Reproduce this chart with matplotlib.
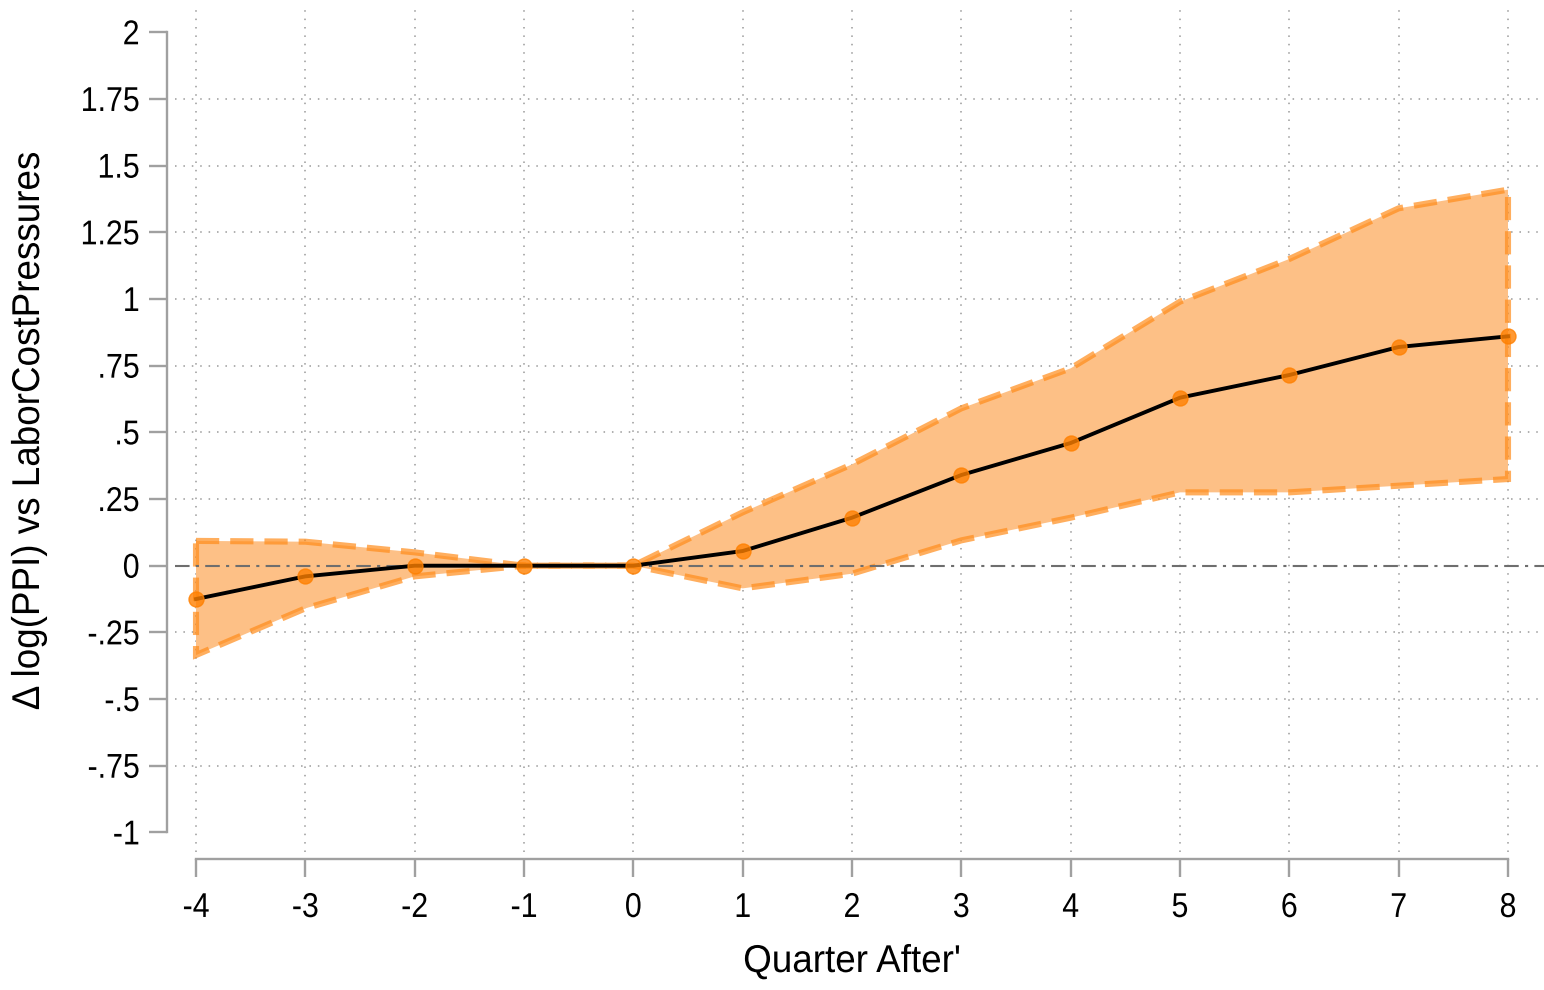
import numpy as np
import matplotlib.pyplot as plt
from matplotlib.patheffects import AbstractPathEffect
from matplotlib.transforms import Affine2D

# Data
quarters = [-4, -3, -2, -1, 0, 1, 2, 3, 4, 5, 6, 7, 8]
coef = [-0.125, -0.04, 0.0, 0.0, 0.0, 0.055, 0.18, 0.34, 0.46, 0.63, 0.715, 0.82, 0.86]
ci_upper = [0.093, 0.09, 0.05, 0.0, 0.0, 0.20, 0.38, 0.59, 0.74, 0.99, 1.15, 1.34, 1.41]
ci_lower = [-0.335, -0.16, -0.04, 0.0, 0.0, -0.085, -0.03, 0.095, 0.18, 0.275, 0.275, 0.30, 0.325]
yticks = [-1, -0.75, -0.5, -0.25, 0, 0.25, 0.5, 0.75, 1, 1.25, 1.5, 1.75, 2]
yticklabels = ['-1', '-.75', '-.5', '-.25', '0', '.25', '.5', '.75', '1', '1.25', '1.5', '1.75', '2']


class Condense(AbstractPathEffect):
    """squeeze text horizontally (narrow font look)"""
    def __init__(self, sx, anchor='left'):
        super().__init__()
        self.sx = sx
        self.anchor = anchor

    def draw_path(self, renderer, gc, tpath, affine, rgbFace=None):
        ext = tpath.get_extents()
        if self.anchor == 'right':
            x = ext.x1
        elif self.anchor == 'center':
            x = (ext.x0 + ext.x1) / 2
        else:
            x = ext.x0
        t = Affine2D().translate(-x, 0).scale(self.sx, 1).translate(x, 0) + affine
        renderer.draw_path(gc, tpath, t, rgbFace)


plt.rcParams['font.family'] = ['Liberation Sans', 'DejaVu Sans']

W, H = 1544, 990
fig = plt.figure(figsize=(W / 100, H / 100), dpi=100)
# plot region in pixels: x 175..1544, y 5..852
ax = fig.add_axes([175 / W, 1 - 852 / H, (W - 175) / W, (852 - 5) / H])

px_per_x = 109.33
px_per_y = 266.7
ax.set_xlim(-4 + (175 - 196) / px_per_x, 8 + (W - 1508) / px_per_x)
ax.set_ylim((565.7 - 852) / px_per_y, (565.7 - 5) / px_per_y)

# dotted grid
for q in quarters:
    ax.axvline(q, color='#9a9a9a', lw=1.1, ls=(0, (1, 4.5)), zorder=0)
for yv in yticks[1:-1]:
    if yv != 0:
        ax.axhline(yv, color='#9a9a9a', lw=1.1, ls=(0, (1, 4.5)), zorder=0)

# confidence band
bx = quarters + quarters[::-1]
by = ci_upper + ci_lower[::-1]
ax.fill(bx, by, color='#fdc086', zorder=1, lw=0)
ax.fill(bx, by, facecolor='none', edgecolor='#ff8c1a', alpha=0.7, lw=4.4,
        ls=(0, (3.8, 1.8)), zorder=2)

ax.axhline(0, color='#6e6e6e', lw=1.5, ls=(0, (7, 3, 1.5, 3)), zorder=3)

ax.plot(quarters, coef, color='black', lw=2.8, zorder=4)
ax.plot(quarters, coef, ls='none', marker='o', ms=10.8, mfc='#ff8000', mec='#ff8000',
        alpha=0.8, zorder=5)

for s in ['top', 'right']:
    ax.spines[s].set_visible(False)
ax.spines['left'].set_position(('outward', 5.8))
ax.spines['left'].set_bounds(-1, 2)
ax.spines['bottom'].set_position(('outward', 5))
ax.spines['bottom'].set_bounds(-4, 8)
for s in ['left', 'bottom']:
    ax.spines[s].set_color('#a0a0a0')
    ax.spines[s].set_linewidth(1.7)

ax.set_yticks(yticks)
ax.set_yticklabels(yticklabels)
ax.set_xticks(quarters)
ax.set_xticklabels([str(q) for q in quarters])
ax.tick_params(axis='both', colors='#a0a0a0', width=1.7, length=13, labelsize=24.8,
               labelcolor='black')
ax.tick_params(axis='y', pad=6.5)
ax.tick_params(axis='x', pad=11.5)

for lbl in ax.get_yticklabels():
    lbl.set_path_effects([Condense(0.88, 'right')])
for lbl in ax.get_xticklabels():
    lbl.set_path_effects([Condense(0.88, 'center')])

ax.set_ylabel('Δ log(PPI) vs LaborCostPressures', fontsize=27.9)
ax.set_xlabel("Quarter After'", fontsize=27.9)
ax.yaxis.label.set_path_effects([Condense(0.95, 'center')])
ax.xaxis.label.set_path_effects([Condense(0.95, 'center')])
ax.yaxis.set_label_coords((47 - 175) / (W - 175), (852 - 431.5) / (852 - 5))
ax.xaxis.set_label_coords((852 - 175) / (W - 175), (852 - 944) / (852 - 5))

fig.savefig('out.png', dpi=100)
